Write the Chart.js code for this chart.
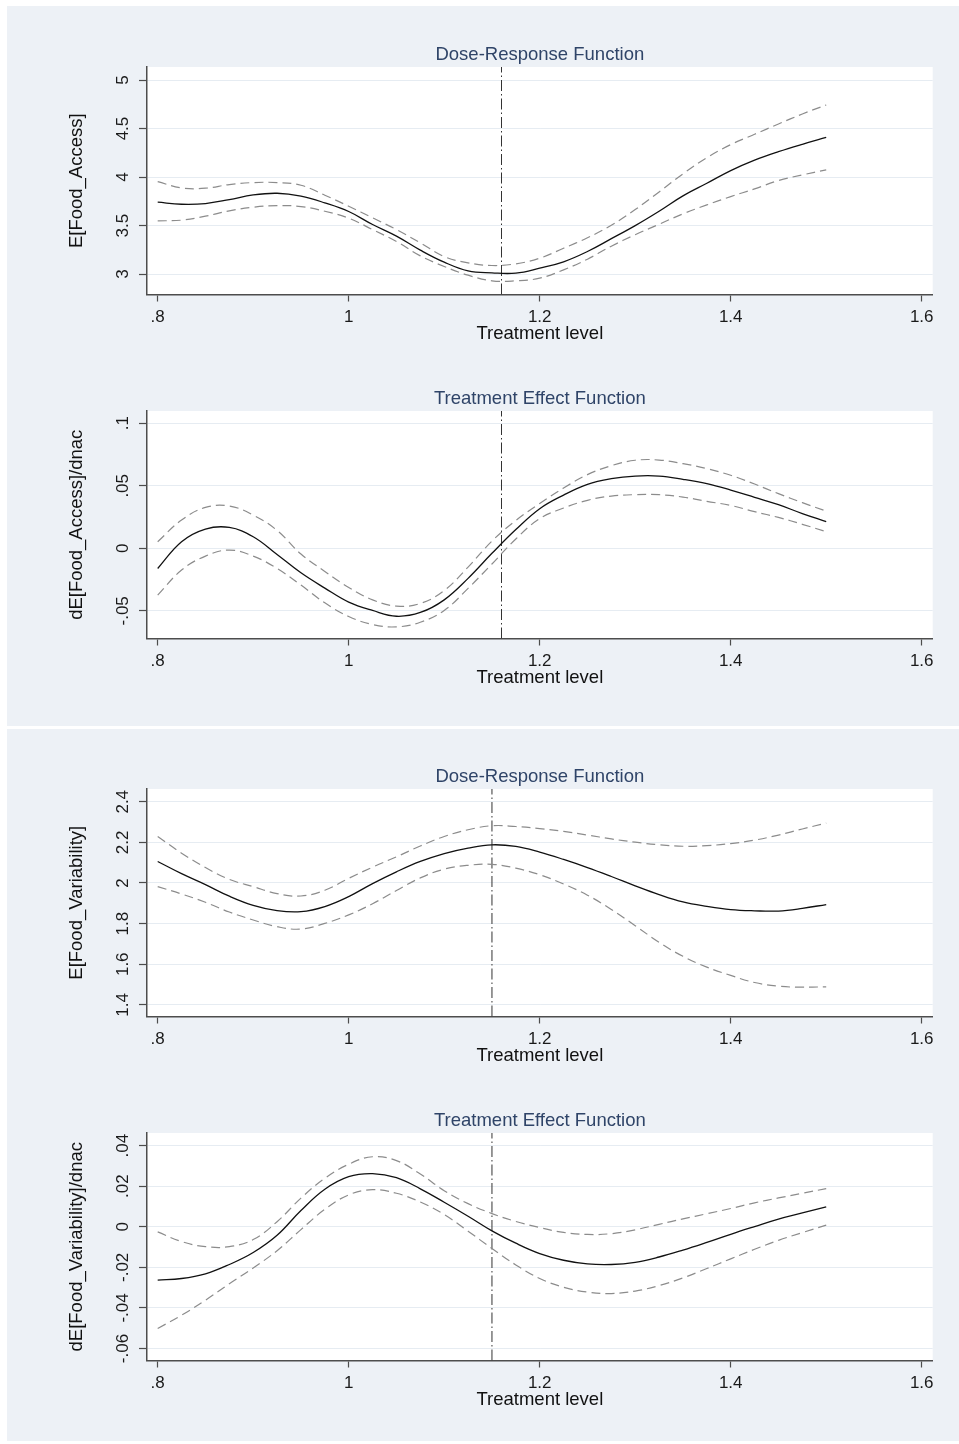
<!DOCTYPE html>
<html><head><meta charset="utf-8">
<script src="https://cdn.jsdelivr.net/npm/chart.js@4.4.1/dist/chart.umd.min.js"></script>
<style>
html,body{margin:0;padding:0;background:#fff;}
body{width:959px;height:1444px;position:relative;overflow:hidden;}
.bg{position:absolute;left:7px;width:952px;background:#edf1f6;}
canvas{position:absolute;left:0;}
</style></head><body>
<div class="bg" style="top:6px;height:720px"></div>
<div class="bg" style="top:729px;height:712px"></div>
<canvas id="c1" width="959" height="347" style="top:0px"></canvas>
<canvas id="c2" width="959" height="347" style="top:344px"></canvas>
<canvas id="c3" width="959" height="347" style="top:722px"></canvas>
<canvas id="c4" width="959" height="347" style="top:1066px"></canvas>
<script>
// ---- data ----
const treatment = [0.8, 0.825, 0.85, 0.875, 0.9, 0.925, 0.95, 0.975, 1.0, 1.025, 1.05, 1.075, 1.1, 1.125,
                   1.15, 1.175, 1.2, 1.225, 1.25, 1.275, 1.3, 1.325, 1.35, 1.375, 1.4, 1.425, 1.45, 1.475, 1.5];
const xTickValues = [0.8, 1, 1.2, 1.4, 1.6];
const xTickLabels = ['.8', '1', '1.2', '1.4', '1.6'];

// Food access: dose-response
const accessDrfMean  = [3.741, 3.720, 3.727, 3.768, 3.816, 3.833, 3.803, 3.734, 3.645, 3.511, 3.391, 3.247, 3.123, 3.034,
                        3.013, 3.010, 3.061, 3.127, 3.233, 3.365, 3.500, 3.648, 3.806, 3.936, 4.067, 4.175, 4.262, 4.338, 4.408];
const accessDrfUpper = [3.953, 3.888, 3.885, 3.923, 3.943, 3.943, 3.916, 3.813, 3.700, 3.580, 3.459, 3.322, 3.181, 3.116,
                        3.089, 3.106, 3.164, 3.267, 3.374, 3.504, 3.665, 3.847, 4.033, 4.200, 4.334, 4.441, 4.547, 4.650, 4.743];
const accessDrfLower = [3.549, 3.556, 3.597, 3.652, 3.689, 3.706, 3.696, 3.648, 3.576, 3.459, 3.336, 3.188, 3.079, 2.989,
                        2.931, 2.931, 2.958, 3.044, 3.154, 3.288, 3.406, 3.514, 3.621, 3.713, 3.799, 3.878, 3.964, 4.022, 4.074];
const accessDrfTicks = [3, 3.5, 4, 4.5, 5];
const accessDrfTickLabels = ['3', '3.5', '4', '4.5', '5'];

// Food access: treatment effect
const accessTefMean  = [-0.0161, 0.0053, 0.0154, 0.0167, 0.0093, -0.0049, -0.0196, -0.0318, -0.0430, -0.0497, -0.0543, -0.0513, -0.0412, -0.0240,
                        -0.0040, 0.0150, 0.0317, 0.0426, 0.0512, 0.0557, 0.0578, 0.0578, 0.0552, 0.0517, 0.0466, 0.0408, 0.0349, 0.0278, 0.0213];
const accessTefUpper = [0.0053, 0.0226, 0.0327, 0.0338, 0.0266, 0.0143, -0.0046, -0.0185, -0.0313, -0.0412, -0.0462, -0.0441, -0.0337, -0.0150,
                        0.0058, 0.0223, 0.0359, 0.0482, 0.0589, 0.0661, 0.0704, 0.0706, 0.0677, 0.0637, 0.0584, 0.0514, 0.0437, 0.0365, 0.0298];
const accessTefLower = [-0.0374, -0.0174, -0.0062, -0.0014, -0.0062, -0.0161, -0.0294, -0.0436, -0.0545, -0.0609, -0.0628, -0.0591, -0.0497, -0.0320,
                        -0.0125, 0.0075, 0.0237, 0.0322, 0.0384, 0.0418, 0.0429, 0.0429, 0.0410, 0.0376, 0.0343, 0.0293, 0.0247, 0.0192, 0.0133];
const accessTefTicks = [-0.05, 0, 0.05, 0.1];
const accessTefTickLabels = ['-.05', '0', '.05', '.1'];

// Food variability: dose-response
const variabDrfMean  = [2.106, 2.046, 1.992, 1.935, 1.890, 1.864, 1.859, 1.884, 1.933, 1.997, 2.055, 2.106, 2.145, 2.172,
                        2.188, 2.180, 2.152, 2.116, 2.076, 2.032, 1.986, 1.943, 1.907, 1.885, 1.869, 1.863, 1.862, 1.875, 1.894];
const variabDrfUpper = [2.229, 2.147, 2.076, 2.018, 1.982, 1.948, 1.936, 1.964, 2.023, 2.078, 2.129, 2.182, 2.229, 2.262,
                        2.282, 2.278, 2.268, 2.254, 2.236, 2.217, 2.201, 2.188, 2.181, 2.184, 2.194, 2.211, 2.236, 2.266, 2.295];
const variabDrfLower = [1.982, 1.946, 1.905, 1.857, 1.818, 1.785, 1.773, 1.801, 1.843, 1.898, 1.963, 2.025, 2.068, 2.087,
                        2.092, 2.073, 2.041, 1.995, 1.940, 1.870, 1.790, 1.708, 1.639, 1.586, 1.545, 1.510, 1.492, 1.487, 1.489];
const variabDrfTicks = [1.4, 1.6, 1.8, 2, 2.2, 2.4];
const variabDrfTickLabels = ['1.4', '1.6', '1.8', '2', '2.2', '2.4'];

// Food variability: treatment effect
const variabTefMean  = [-0.0263, -0.0255, -0.0232, -0.0186, -0.0127, -0.0042, 0.0080, 0.0185, 0.0247, 0.0262, 0.0242, 0.0187, 0.0121, 0.0052,
                        -0.0020, -0.0081, -0.0132, -0.0165, -0.0183, -0.0186, -0.0175, -0.0149, -0.0115, -0.0077, -0.0037, 0.0001, 0.0038, 0.0068, 0.0098];
const variabTefUpper = [-0.0025, -0.0073, -0.0098, -0.0098, -0.0063, 0.0025, 0.0141, 0.0239, 0.0308, 0.0345, 0.0326, 0.0260, 0.0178, 0.0114,
                        0.0065, 0.0026, -0.0004, -0.0028, -0.0038, -0.0034, -0.0015, 0.0012, 0.0039, 0.0064, 0.0090, 0.0118, 0.0142, 0.0165, 0.0188];
const variabTefLower = [-0.0501, -0.0436, -0.0362, -0.0281, -0.0203, -0.0118, -0.0014, 0.0086, 0.0157, 0.0183, 0.0165, 0.0122, 0.0060, -0.0022,
                        -0.0107, -0.0188, -0.0255, -0.0298, -0.0322, -0.0329, -0.0317, -0.0290, -0.0252, -0.0206, -0.0158, -0.0111, -0.0067, -0.0029, 0.0008];
const variabTefTicks = [-0.06, -0.04, -0.02, 0, 0.02, 0.04];
const variabTefTickLabels = ['-.06', '-.04', '-.02', '0', '.02', '.04'];

const panelTitles = ['Dose-Response Function', 'Treatment Effect Function', 'Dose-Response Function', 'Treatment Effect Function'];
const yAxisTitles = ['E[Food_Access]', 'dE[Food_Access]/dnac', 'E[Food_Variability]', 'dE[Food_Variability]/dnac'];
const referenceLevels = [1.16, 1.16, 1.15, 1.15];
const xTitle = 'Treatment level';

// ---- rendering ----
const FONT = '"Liberation Sans", Arial, Helvetica, sans-serif';
Chart.defaults.font.family = FONT;

const panels = [
  {id:'c1', mean:accessDrfMean, upper:accessDrfUpper, lower:accessDrfLower, ticks:accessDrfTicks, labels:accessDrfTickLabels, min:2.79, max:5.134},
  {id:'c2', mean:accessTefMean, upper:accessTefUpper, lower:accessTefLower, ticks:accessTefTicks, labels:accessTefTickLabels, min:-0.0721, max:0.1098},
  {id:'c3', mean:variabDrfMean, upper:variabDrfUpper, lower:variabDrfLower, ticks:variabDrfTicks, labels:variabDrfTickLabels, min:1.3428, max:2.4627},
  {id:'c4', mean:variabTefMean, upper:variabTefUpper, lower:variabTefLower, ticks:variabTefTicks, labels:variabTefTickLabels, min:-0.0659, max:0.0462}
];

const decor = {
  id: 'decor',
  beforeDraw(chart) {
    const {ctx, chartArea: a} = chart;
    ctx.save();
    ctx.fillStyle = '#ffffff';
    ctx.fillRect(a.left, a.top, a.right - a.left, a.bottom - a.top);
    ctx.restore();
  },
  afterDraw(chart, args, opts) {
    const {ctx, chartArea: a} = chart;
    const ys = chart.scales.y;
    ctx.save();
    ctx.fillStyle = '#1a1a1a';
    ctx.font = '17px ' + FONT;
    ctx.textAlign = 'center';
    ctx.textBaseline = 'alphabetic';
    opts.ticks.forEach((v, i) => {
      const y = ys.getPixelForValue(v);
      ctx.save();
      ctx.translate(a.left - 19, y);
      ctx.rotate(-Math.PI / 2);
      ctx.fillText(opts.labels[i], 0, 0);
      ctx.restore();
    });
    ctx.fillStyle = '#2f4468';
    ctx.font = '18.5px ' + FONT;
    ctx.fillText(opts.title, (a.left + a.right) / 2, a.top - 7.5);
    ctx.restore();
  }
};

panels.forEach((p, k) => {
  const pts = arr => treatment.map((x, i) => ({x, y: arr[i]}));
  const line = {pointRadius: 0, fill: false, tension: 0.4};
  new Chart(document.getElementById(p.id), {
    type: 'line',
    data: {
      datasets: [
        {...line, data: pts(p.upper), borderColor: '#8c8c8c', borderWidth: 1.2, borderDash: [9, 5]},
        {...line, data: pts(p.lower), borderColor: '#8c8c8c', borderWidth: 1.2, borderDash: [9, 5]},
        {...line, data: pts(p.mean), borderColor: '#111111', borderWidth: 1.3},
        {...line, tension: 0, data: [{x: referenceLevels[k], y: p.min}, {x: referenceLevels[k], y: p.max}],
         borderColor: '#333333', borderWidth: 1, borderDash: [11, 3, 1.5, 3]}
      ]
    },
    options: {
      responsive: false, animation: false, devicePixelRatio: 1,
      layout: {padding: {top: 67, left: 0, right: 26.3, bottom: 0}},
      plugins: {legend: {display: false}, tooltip: {enabled: false},
        decor: {title: panelTitles[k], ticks: p.ticks, labels: p.labels}},
      scales: {
        x: {
          type: 'linear', min: 0.7888, max: 1.6115,
          afterBuildTicks: s => { s.ticks = xTickValues.map(v => ({value: v})); },
          afterFit: s => { s.height = 52.5; },
          ticks: {autoSkip: false, maxRotation: 0, minRotation: 0, padding: 5.5, color: '#1a1a1a',
            font: {size: 17}, callback: v => xTickLabels[xTickValues.indexOf(v)]},
          grid: {drawOnChartArea: false, drawTicks: true, tickLength: 7, tickColor: '#4d4d4d', tickWidth: 1.2},
          border: {display: true, color: '#4d4d4d', width: 1.5},
          title: {display: true, text: xTitle, color: '#111111', font: {size: 18.5}, padding: {top: 0, bottom: 1.8}}
        },
        y: {
          type: 'linear', min: p.min, max: p.max,
          afterBuildTicks: s => { s.ticks = p.ticks.map(v => ({value: v})); },
          afterFit: s => { s.width = 147; },
          ticks: {display: false},
          grid: {color: '#e6ecf2', lineWidth: 1, drawTicks: true, tickLength: 8, tickColor: '#4d4d4d', tickWidth: 1.2},
          border: {display: true, color: '#4d4d4d', width: 1.5},
          title: {display: true, text: yAxisTitles[k], color: '#111111', font: {size: 18.5}, padding: {top: 65.5, bottom: 0}}
        }
      }
    },
    plugins: [decor]
  });
});
</script>
</body></html>
